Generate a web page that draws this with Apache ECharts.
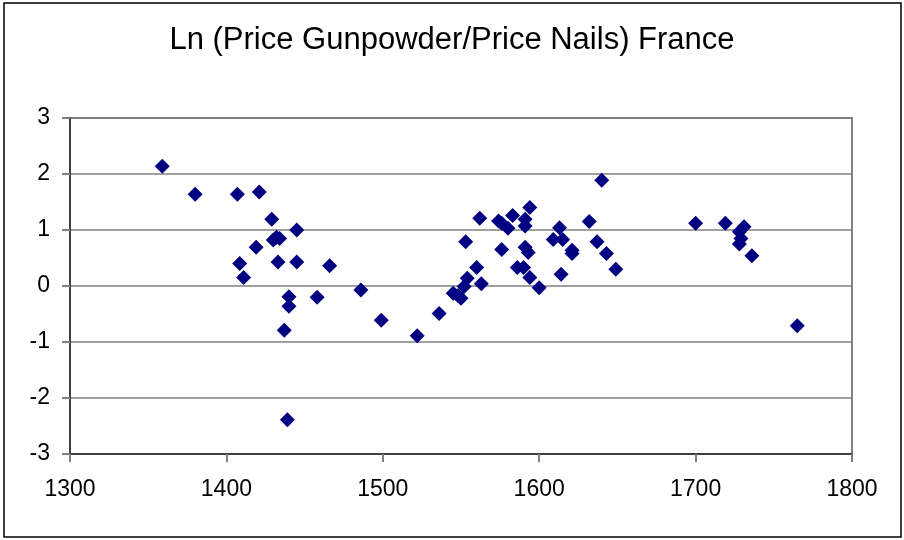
<!DOCTYPE html>
<html>
<head>
<meta charset="utf-8">
<script src="https://cdn.jsdelivr.net/npm/echarts@6/dist/echarts.min.js"></script>
<style>
html,body{margin:0;padding:0;background:#fff;}
#c{width:904px;height:540px;}
</style>
</head>
<body>
<div id="c"></div>
<script>
var titleText = "Ln (Price Gunpowder/Price Nails) France";
var years = [1359,1380,1407,1408.5,1411,1419,1421,1429,1430,1432,1434,1433,1437,1439,1440,1440,1445,1445,1458,1466,1486,1499,1522,1536,1545,1548,1550,1552,1553,1554,1560,1562,1563,1574,1576,1576,1580,1583,1586,1590,1591,1591,1591,1593,1594,1594,1600,1609,1613,1614,1615,1621,1621,1632,1637,1640,1643,1649,1700,1719,1728,1729,1728,1731,1736,1765];
var values = [2.14,1.64,1.64,0.40,0.15,0.69,1.68,1.19,0.82,0.87,0.85,0.43,-0.79,-2.39,-0.19,-0.36,1.00,0.43,-0.20,0.36,-0.07,-0.61,-0.89,-0.49,-0.13,-0.17,-0.22,-0.01,0.79,0.14,0.33,1.21,0.04,1.16,1.12,0.65,1.03,1.26,0.33,0.33,1.19,1.07,0.69,0.60,1.40,0.15,-0.03,0.83,1.04,0.21,0.83,0.64,0.58,1.15,0.79,1.89,0.58,0.30,1.12,1.12,0.97,0.85,0.75,1.06,0.54,-0.71];
var xMin = 1300, xMax = 1800, xStep = 100;
var yMin = -3, yMax = 3, yStep = 1;

var pts = years.map(function(y,i){ return [y, values[i]]; });
var chart = echarts.init(document.getElementById('c'), null, {renderer:'canvas'});
var font = 'Liberation Sans, Arial, sans-serif';
chart.setOption({
  animation:false,
  backgroundColor:'#fff',
  title:{text:titleText,left:'center',top:20,textStyle:{fontFamily:font,fontSize:31,fontWeight:'normal',color:'#000'}},
  grid:{left:70,right:52,top:118,bottom:86,show:true,borderColor:'#808080',borderWidth:2},
  graphic:[{type:'rect',shape:{x:4,y:3,width:897,height:534},style:{fill:'none',stroke:'#000',lineWidth:1.5},silent:true}],
  xAxis:{type:'value',min:xMin,max:xMax,interval:xStep,
    axisLine:{show:true,onZero:false,lineStyle:{color:'#404040',width:2}},
    axisTick:{show:true,inside:false,length:8,lineStyle:{color:'#808080',width:2}},
    axisLabel:{margin:24,fontFamily:font,fontSize:23,color:'#000',formatter:function(v){return String(v);}},
    splitLine:{show:false}},
  yAxis:{type:'value',min:yMin,max:yMax,interval:yStep,
    axisLine:{show:true,onZero:false,lineStyle:{color:'#404040',width:2}},
    axisTick:{show:true,inside:false,length:8,lineStyle:{color:'#808080',width:2}},
    axisLabel:{margin:20,fontFamily:font,fontSize:23,color:'#000'},
    splitLine:{show:true,lineStyle:{color:'#808080',width:1.5}}},
  series:[{type:'scatter',data:pts,symbol:'diamond',symbolSize:15,itemStyle:{color:'#000080',opacity:1}}]
});
</script>
</body>
</html>
